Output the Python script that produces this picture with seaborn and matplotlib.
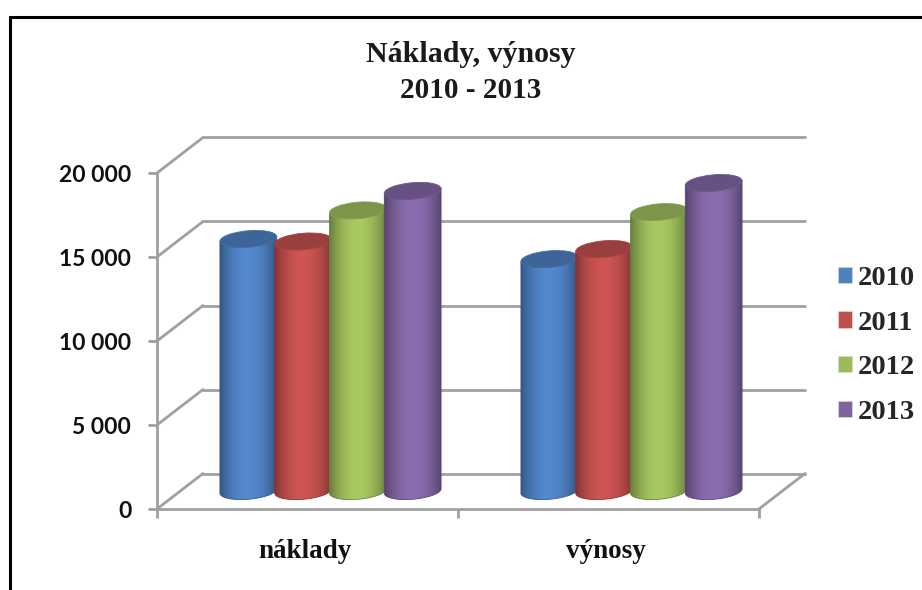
import numpy as np
import pandas as pd
import matplotlib
matplotlib.use('Agg')
import matplotlib.pyplot as plt
import seaborn as sns
from matplotlib.lines import Line2D
from matplotlib.patches import Ellipse, Patch, PathPatch
from matplotlib.path import Path
from matplotlib.transforms import IdentityTransform

kategorie = ['náklady', 'výnosy']
roky = ['2010', '2011', '2012', '2013']
naklady = [15000, 14850, 16700, 17860]
vynosy = [13800, 14400, 16600, 18330]
y_ticks = [0, 5000, 10000, 15000, 20000]
y_labels = ['0', '5 000', '10 000', '15 000', '20 000']

barvy = ['#4F81BD', '#C0504D', '#9BBB59', '#8064A2']
stred = ['#5389cf', '#cf5553', '#a9ca62', '#8b6db1']

W, H = 922, 590
SEDA = '#a0a0a0'

sns.set_theme(style='white')
plt.rcParams['font.family'] = ['Liberation Serif', 'DejaVu Sans']

df = pd.DataFrame({
    'kategorie': np.repeat(kategorie, len(roky)),
    'rok': roky * len(kategorie),
    'hodnota': naklady + vynosy,
})

fig = plt.figure(figsize=(W / 100, H / 100), dpi=100, facecolor='white')


def osy(left, right, bottom, top, z):
    a = fig.add_axes([left / W, 1 - bottom / H, (right - left) / W, (bottom - top) / H], zorder=z)
    a.set_xlim(-0.5, 1.5)
    a.set_ylim(0, 20000)
    a.patch.set_visible(False)
    return a


def cara(x, y, **kw):
    fig.add_artist(Line2D([v / W for v in x], [1 - v / H for v in y], transform=fig.transFigure, **kw))


# the three planes of the fake 3D box: front axis, bars in the middle, back wall
ax = osy(157, 759, 509, 173, 1)
ax_back = osy(203, 805, 473.5, 137.5, 0)
ax_bars = osy(180, 782, 491, 155, 3)

# back wall
ax_back.set_yticks(y_ticks)
ax_back.set_xticks([])
ax_back.set_yticklabels([])
ax_back.tick_params(left=False)
ax_back.grid(axis='y', color=SEDA, lw=2, clip_on=False)
sns.despine(ax=ax_back, left=True, bottom=True)

# front axis
ax.set_xticks([-0.5, 0.5, 1.5])
ax.set_xticklabels([])
ax.set_yticks(y_ticks)
ax.set_yticklabels(y_labels, family='Lato', weight='bold', fontsize=16.5, color='#111111')
ax.tick_params(axis='both', which='major', length=6.5, width=2, color=SEDA, left=True, bottom=True)
ax.tick_params(axis='y', pad=12)
sns.despine(ax=ax)
for s in ['left', 'bottom']:
    ax.spines[s].set_color(SEDA)
    ax.spines[s].set_linewidth(2)

for t in y_ticks:
    y = 509 - t * 336 / 20000
    cara([157, 203], [y, y - 35.5], color=SEDA, lw=2, zorder=0.5)
cara([759, 805], [509, 473.5], color=SEDA, lw=2, zorder=0.5)

# bars, redrawn as cylinders
sns.barplot(data=df, x='kategorie', y='hodnota', hue='rok', hue_order=roky, order=kategorie,
            palette=barvy, width=0.728, gap=0, saturation=1, legend=False, ax=ax_bars)
ax_bars.axis('off')

t = np.linspace(0, 1, 80)
stin = 0.6 + 0.4 * np.sin(np.pi * t) ** 0.8
PRUMER = 57
VYSKA = 16.5
NAKLON = 5
cos_n, sin_n = np.cos(np.radians(NAKLON)), np.sin(np.radians(NAKLON))
uhly = np.linspace(np.pi, 2 * np.pi, 40)
trans = ax_bars.transData


def valec(cx, y0, y1):
    # outline of the cylinder body: lower half of the base ellipse, then up to the top
    ex = PRUMER / 2 * np.cos(uhly)
    ey = VYSKA / 2 * np.sin(uhly)
    px = cx + ex * cos_n - ey * sin_n
    py = y0 + ex * sin_n + ey * cos_n
    horni = [(px[-1], y1 + PRUMER / 2 * sin_n), (px[0], y1 - PRUMER / 2 * sin_n), (px[0], py[0])]
    return Path(list(zip(px, py)) + horni, closed=True)


for i, (cont, c2) in enumerate(zip(ax_bars.containers, stred)):
    rgb = np.array(matplotlib.colors.to_rgb(c2))
    grad = (stin[:, None] * rgb)[None, :, :]
    for bar in cont:
        x, w, h = bar.get_x(), bar.get_width(), bar.get_height()
        cx, y0 = trans.transform((x + w / 2, 0))
        _, y1 = trans.transform((x + w / 2, h))
        obrys = valec(cx, y0, y1)
        z = 2 + i
        bar.set_zorder(z)
        bar.set_clip_path(obrys, IdentityTransform())
        im = ax_bars.imshow(grad, extent=(x - 0.005, x + w + 0.005, -1500, h + 1500), aspect='auto',
                            zorder=z + 0.1, interpolation='bilinear')
        # the base of the cylinder hangs below y=0, so only the outline may clip it
        im.set_clip_box(fig.bbox)
        im.set_clip_path(obrys, IdentityTransform())
        # soft edge so the clipped body is not jagged
        ax_bars.add_patch(PathPatch(obrys, transform=IdentityTransform(), facecolor='none',
                                    edgecolor=tuple(rgb * 0.65), lw=0.6, zorder=z + 0.2, clip_on=False))
        ax_bars.add_patch(Ellipse((cx, y1), PRUMER, VYSKA, angle=NAKLON, transform=IdentityTransform(),
                                  facecolor=tuple(rgb * 0.74), edgecolor=tuple(rgb * 0.8), lw=0.6,
                                  zorder=z + 0.3, clip_on=False))
ax_bars.set_xlim(-0.5, 1.5)
ax_bars.set_ylim(0, 20000)

# texts
fig.text(471 / W, 1 - 55 / H, 'Náklady, výnosy', ha='center', va='center', fontsize=21.5, weight='bold', color='#1a1a1a')
fig.text(471 / W, 1 - 90 / H, '2010 - 2013', ha='center', va='center', fontsize=21, weight='bold', color='#1a1a1a')
for x_k, nazev in zip([0, 1], kategorie):
    ax.text(x_k - 0.008, 1 - (551 - 173) / 336, nazev, transform=ax.get_xaxis_transform(), ha='center', va='center',
            fontsize=19.5, weight='bold', color='#111111')

handles = [Patch(facecolor=b, edgecolor='#d8d8d8', lw=0.5, label=r) for b, r in zip(barvy, roky)]
fig.legend(handles=handles, loc='center left', bbox_to_anchor=(838 / W, 1 - 345.5 / H), frameon=False,
           prop={'family': 'Liberation Serif', 'weight': 'bold', 'size': 20.5},
           handlelength=0.5, handleheight=0.5, handletextpad=0.18, labelspacing=0.695, borderpad=0, borderaxespad=0)

# black frame of the screenshot
cara([10, 10], [17, 590], color='black', lw=2.2)
cara([10, 922], [17, 17], color='black', lw=2.2)

fig.savefig('out.png', dpi=100)
